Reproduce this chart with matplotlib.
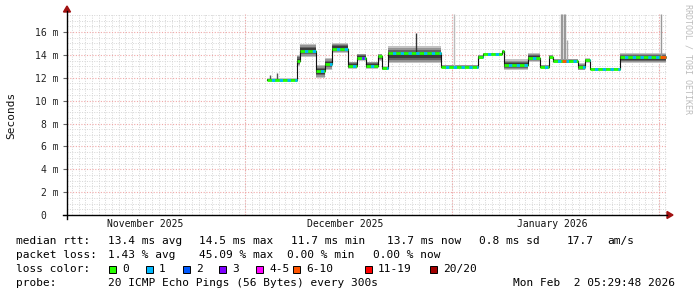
import numpy as np
import matplotlib
matplotlib.use("Agg")
import matplotlib.pyplot as plt
from matplotlib.patches import Rectangle, Polygon

# ---------------- data ----------------
# time axis: 90 days ending Mon Feb 2 05:29:48 2026 (values in days since start)
t_start = np.datetime64("2025-11-04T05:29:48")
t_end = np.datetime64("2026-02-02T05:29:48")
month_starts = ["2025-12-01", "2026-01-01", "2026-02-01"]
month_label_dates = ["2025-11-16", "2025-12-16", "2026-01-16"]
month_labels = ["November 2025", "December 2025", "January 2026"]

# step segments of the median rtt (ms): start day, median, smoke low, smoke high
seg_start = [30.0, 34.5, 34.9, 37.3, 38.7, 39.75, 42.15, 43.5, 44.85, 46.65,
             47.25, 48.15, 56.1, 61.65, 62.4, 65.25, 65.55, 69.15, 70.95,
             72.3, 72.9, 76.65, 77.7, 78.45, 82.95]
seg_end_last = 89.85
seg_median = [11.8, 13.5, 14.35, 12.6, 13.2, 14.55, 13.05, 13.75, 13.05, 13.9,
              12.85, 14.2, 12.97, 13.84, 14.05, 14.3, 13.1, 13.7, 12.97,
              13.85, 13.45, 12.97, 13.55, 12.75, 13.78]
seg_low = [11.7, 13.0, 13.8, 11.95, 12.7, 14.15, 12.75, 13.45, 12.75, 13.5,
           12.65, 13.25, 12.85, 13.6, 13.95, 14.1, 12.65, 13.35, 12.85,
           13.6, 13.3, 12.65, 13.3, 12.65, 13.25]
seg_high = [11.95, 14.0, 14.95, 13.15, 13.7, 15.05, 13.4, 14.1, 13.4, 14.1,
            13.0, 14.75, 13.1, 14.0, 14.15, 14.4, 13.6, 14.15, 13.1,
            14.0, 13.65, 13.25, 13.7, 12.85, 14.2]

# occasional high pings (day, top value ms, shade)
spike_day = [30.45, 31.5, 52.35, 58.05, 74.1, 74.3, 74.5, 74.7, 75.0, 89.1]
spike_top = [12.25, 12.4, 15.95, 17.6, 17.6, 17.6, 17.6, 17.6, 15.3, 17.6]
spike_color = ["#555555", "#555555", "#333333", "#bbbbbb", "#999999",
               "#999999", "#999999", "#999999", "#aaaaaa", "#999999"]

# loss events other than 0/1 (start day, end day, colour index)
event_start = [44.25, 74.25, 89.0]
event_end = [44.6, 74.8, 89.85]
event_loss = [3, 5, 5]

loss_labels = ["0", "1", "2", "3", "4-5", "6-10", "11-19", "20/20"]
loss_colors = ["#26ff00", "#00b8ff", "#0059ff", "#7e00ff", "#ff00ff",
               "#ff5500", "#ff0000", "#a10000"]

stats_rtt = ["13.4 ms avg", "14.5 ms max", "11.7 ms min", "13.7 ms now",
             "0.8 ms sd", "17.7", "am/s"]
stats_loss = ["1.43 % avg", "45.09 % max", "0.00 % min", "0.00 % now"]
probe_text = "20 ICMP Echo Pings (56 Bytes) every 300s"
stamp_text = "Mon Feb  2 05:29:48 2026"

y_ticks = [0, 2, 4, 6, 8, 10, 12, 14, 16]
y_tick_labels = ["0  ", "2 m", "4 m", "6 m", "8 m", "10 m", "12 m", "14 m", "16 m"]

# ---------------- drawing ----------------
W, H = 697, 297
MONO = "DejaVu Sans Mono"
fig = plt.figure(figsize=(W / 100, H / 100), dpi=100)
fig.patch.set_facecolor("white")


def fx(x):
    return x / W


def fy(y):
    return 1 - y / H


ax_l, ax_r, ax_t, ax_b = 67, 667, 14, 215
ax = fig.add_axes([fx(ax_l), fy(ax_b), (ax_r - ax_l) / W, (ax_b - ax_t) / H])
total_days = (t_end - t_start) / np.timedelta64(1, "D")
ymax = (ax_b - ax_t) / ((ax_b - 32) / 16.0)
ax.set_xlim(0, total_days)
ax.set_ylim(0, ymax)
for s in ax.spines.values():
    s.set_visible(False)


def day_of(d):
    return (np.datetime64(d) - t_start) / np.timedelta64(1, "D")


# grid
MINOR_C = "#d6d6d6"
MAJOR_C = "#f0a8a8"
day_lines = np.arange(day_of("2025-11-05"), total_days, 1.0)
for d in day_lines:
    ax.axvline(d, color=MINOR_C, lw=0.7, ls=(0, (1, 1.5)), zorder=0)
for v in np.arange(0.5, ymax, 0.5):
    if v % 2 != 0:
        ax.axhline(v, color=MINOR_C, lw=0.7, ls=(0, (1, 1.5)), zorder=0)
for m in month_starts:
    ax.axvline(day_of(m), color=MAJOR_C, lw=0.8, ls=(0, (1, 1.5)), zorder=0.5)
for v in y_ticks[1:]:
    ax.axhline(v, color=MAJOR_C, lw=0.8, ls=(0, (1, 1.5)), zorder=0.5)

ax.set_xticks([])
ax.set_yticks(y_ticks)
ax.set_yticklabels(y_tick_labels, family=MONO, fontsize=7, color="#222222")
ax.tick_params(axis="y", length=3, width=0.8, pad=3, color="#666666")

for d, lab in zip(month_label_dates, month_labels):
    ax.text(day_of(d), -0.022, lab, transform=ax.get_xaxis_transform(),
            ha="center", va="top", family=MONO, fontsize=7, color="#111111")

# smoke
edges = np.array(seg_start + [seg_end_last])
lo = np.array(seg_low)
hi = np.array(seg_high)
med = np.array(seg_median)
lo_e = np.append(lo, lo[-1])
hi_e = np.append(hi, hi[-1])
rng = hi_e - lo_e
shades = [(0.0, "#c4c4c4"), (0.1, "#959595"), (0.22, "#666666"), (0.34, "#3c3c3c")]
for f, c in shades:
    ax.fill_between(edges, lo_e + f * rng, hi_e - f * rng, step="post",
                    color=c, lw=0, zorder=2)

# spikes
for d, top, c in zip(spike_day, spike_top, spike_color):
    i = np.searchsorted(edges, d, side="right") - 1
    ax.vlines(d, med[i], top, color=c, lw=1.0, zorder=2.5)

# median: thin dark step connection + coloured ticks
med_e = np.append(med, med[-1])
ax.step(edges, med_e, where="post", color="#111111", lw=0.8, zorder=3)
ax.hlines(med, edges[:-1], edges[1:], color=loss_colors[0], lw=2.0, zorder=4)
ax.hlines(med, edges[:-1], edges[1:], color=loss_colors[1], lw=2.0,
          linestyles=[(1.2, (1.2, 1.6))], zorder=4.5)
for s0, s1, li in zip(event_start, event_end, event_loss):
    i = np.searchsorted(edges, s0, side="right") - 1
    ax.hlines(med[i], s0, s1, color=loss_colors[li], lw=2.0, zorder=5)

# axes lines and arrows
fig.add_artist(plt.Line2D([fx(63), fx(667)], [fy(215), fy(215)], color="black", lw=1.0))
fig.add_artist(plt.Line2D([fx(67), fx(67)], [fy(219), fy(11)], color="black", lw=1.0))
fig.add_artist(Polygon([(fx(667), fy(211.5)), (fx(673), fy(215)), (fx(667), fy(218.5))],
                       closed=True, color="#a01010"))
fig.add_artist(Polygon([(fx(63.5), fy(12)), (fx(67), fy(6)), (fx(70.5), fy(12))],
                       closed=True, color="#a01010"))

# y label and watermark
fig.text(fx(11), fy(115), "Seconds", rotation=90, ha="center", va="center",
         family=MONO, fontsize=8, color="#111111")
fig.text(fx(688), fy(4), "RRDTOOL / TOBI OETIKER", rotation=-90, ha="center",
         va="top", family=MONO, fontsize=6.0, color="#bcbcbc")

# legend text
FS = 8.0
rows = [241, 255, 269, 283]
fig.text(fx(16), fy(rows[0]), "median rtt:", family=MONO, fontsize=FS, va="center")
for s, x in zip(stats_rtt, [108, 199, 291, 387, 479, 567, 607]):
    fig.text(fx(x), fy(rows[0]), s, family=MONO, fontsize=FS, va="center")
fig.text(fx(16), fy(rows[1]), "packet loss:", family=MONO, fontsize=FS, va="center")
for s, x in zip(stats_loss, [108, 199, 287, 373]):
    fig.text(fx(x), fy(rows[1]), s, family=MONO, fontsize=FS, va="center")
fig.text(fx(16), fy(rows[2]), "loss color:", family=MONO, fontsize=FS, va="center")
sq_x = [109, 146, 183, 219, 256, 293, 365, 430]
for lab, col, x in zip(loss_labels, loss_colors, sq_x):
    fig.add_artist(Rectangle((fx(x), fy(272.5)), 7 / W, 7 / H, facecolor=col,
                             edgecolor="black", lw=0.7))
    fig.text(fx(x + 13), fy(rows[2]), lab, family=MONO, fontsize=FS, va="center")
fig.text(fx(16), fy(rows[3]), "probe:", family=MONO, fontsize=FS, va="center")
fig.text(fx(108), fy(rows[3]), probe_text, family=MONO, fontsize=FS, va="center")
fig.text(fx(513), fy(rows[3]), stamp_text, family=MONO, fontsize=FS, va="center")

fig.savefig("out.png", dpi=100, facecolor="white")
